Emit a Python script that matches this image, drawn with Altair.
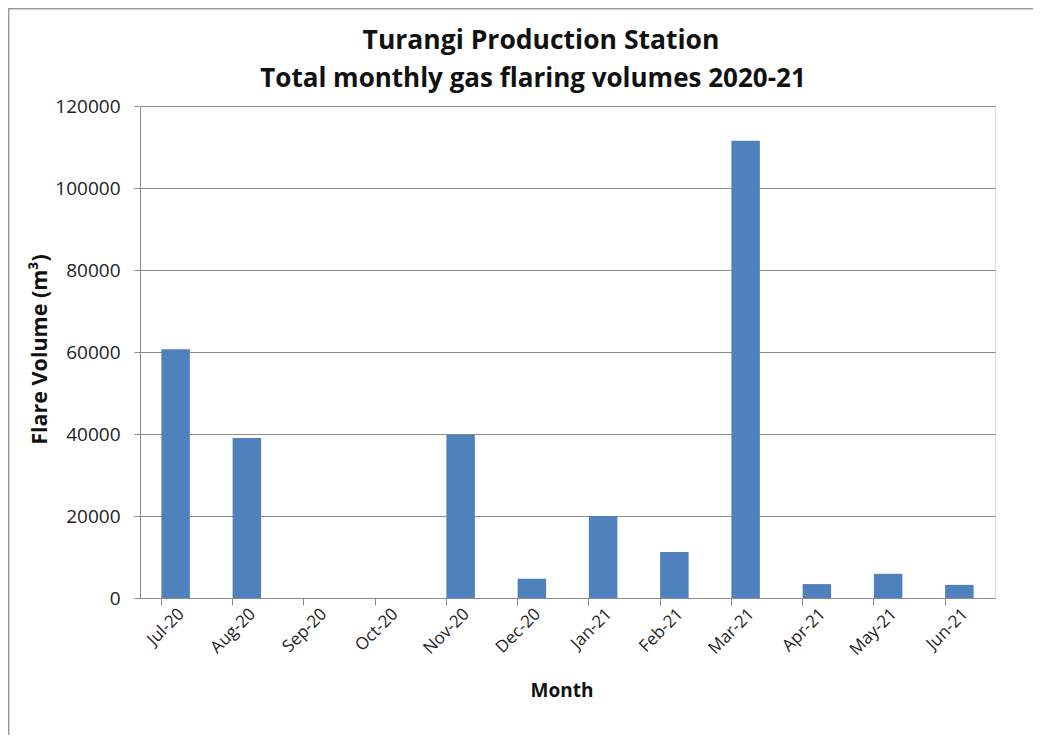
import altair as alt
import pandas as pd

title_lines = ["Turangi Production Station", "Total monthly gas flaring volumes 2020-21"]
months = ["Jul-20", "Aug-20", "Sep-20", "Oct-20", "Nov-20", "Dec-20",
          "Jan-21", "Feb-21", "Mar-21", "Apr-21", "May-21", "Jun-21"]
volumes = [60700, 39000, 0, 0, 39800, 4700, 20000, 11200, 111500, 3400, 5900, 3200]
y_ticks = [0, 20000, 40000, 60000, 80000, 100000, 120000]

df = pd.DataFrame({"Month": months, "Volume": volumes})

W, H = 855, 492
FONT = "Open Sans"
GRAY = "#8a8a8a"

bars = alt.Chart(df).mark_bar(color="#4F81BD").encode(
    x=alt.X("Month:N", sort=months,
            scale=alt.Scale(paddingInner=0.6, paddingOuter=0.3),
            axis=alt.Axis(title="Month", bandPosition=0, labelOffset=6,
                          labelAngle=315, labelAlign="right", labelBaseline="middle",
                          labelPadding=6, tickSize=7, tickColor=GRAY, domainColor=GRAY,
                          labelFont=FONT, labelFontSize=17, labelColor="#222",
                          titleFont=FONT, titleFontSize=19, titleFontWeight="bold",
                          titleColor="#111", titleX=W / 2 - 6, titleY=92,
                          titleBaseline="middle", titleAlign="center")),
    y=alt.Y("Volume:Q",
            scale=alt.Scale(domain=[0, 120000], nice=False),
            axis=alt.Axis(title="Flare Volume (m³)", values=y_ticks, format="d",
                          grid=True, gridColor=GRAY, domainColor=GRAY, tickColor=GRAY,
                          tickSize=6, labelPadding=14,
                          labelFont=FONT, labelFontSize=19, labelColor="#222",
                          titleFont=FONT, titleFontSize=21.5, titleFontWeight="bold",
                          titleColor="#111", titleAngle=270, titleX=-100, titleY=H / 2 - 3,
                          titleBaseline="middle", titleAlign="center")),
)

title_df = pd.DataFrame({"line": title_lines, "n": [0, 1]})
title1 = alt.Chart(title_df).transform_filter("datum.n == 0").mark_text(
    font=FONT, fontSize=26.5, fontWeight="bold", color="#111",
    align="center", baseline="alphabetic").encode(
    text="line:N", x=alt.value(401), y=alt.value(-57))
title2 = alt.Chart(title_df).transform_filter("datum.n == 1").mark_text(
    font=FONT, fontSize=26, fontWeight="bold", color="#111",
    align="center", baseline="alphabetic").encode(
    text="line:N", x=alt.value(393), y=alt.value(-19))

top_border = alt.Chart(title_df).mark_rule(color="#999", strokeWidth=1.5).encode(
    x=alt.value(-131.5), x2=alt.value(W + 38), y=alt.value(-97.5))
left_border = alt.Chart(title_df).mark_rule(color="#999", strokeWidth=1.5).encode(
    x=alt.value(-131.5), y=alt.value(-97.5), y2=alt.value(H + 137))

chart = alt.layer(bars, title1, title2, top_border, left_border).properties(
    width=W, height=H,
    autosize=alt.AutoSizeParams(type="none"),
    padding={"left": 132, "top": 98, "right": 38, "bottom": 137},
).configure_view(stroke=None).configure(background="white")

chart.save("out.html", embed_options={"renderer": "svg", "actions": False})
